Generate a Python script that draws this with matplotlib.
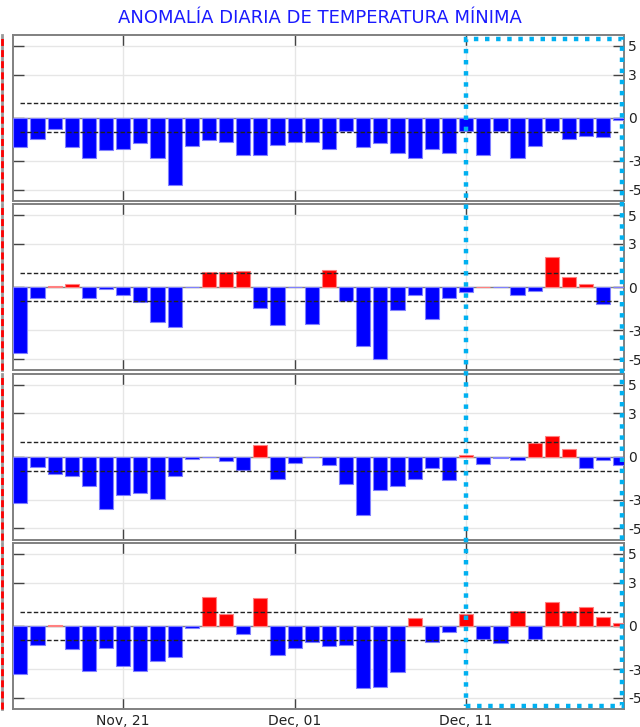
import numpy as np
import matplotlib
matplotlib.use("Agg")
import matplotlib.pyplot as plt
import matplotlib.dates as mdates
import matplotlib.transforms as mtransforms
from matplotlib.patches import Rectangle
import datetime as dt

title = "ANOMALÍA DIARIA DE TEMPERATURA MÍNIMA"
start = dt.date(2023, 11, 15)
dates = [start + dt.timedelta(days=i) for i in range(36)]

p1 = [-2.05, -1.45, -0.8, -2.05, -2.77, -2.26, -2.15, -1.75, -2.77, -4.66, -1.96, -1.57,
      -1.69, -2.56, -2.56, -1.87, -1.69, -1.69,
      -2.15, -0.95, -2.05, -1.75, -2.47, -2.77, -2.15, -2.47, -0.95, -2.56, -0.95, -2.77,
      -1.96, -0.95, -1.45, -1.25, -1.36, -0.16]
p2 = [-4.55, -0.76, 0.05, 0.23, -0.76, -0.14, -0.55, -1.04, -2.45, -2.75, 0.0, 1.04,
      1.04, 1.13, -1.45, -2.66, 0.0, -2.54,
      1.22, -0.97, -4.11, -5.03, -1.57, -0.55, -2.24, -0.76, -0.35, 0.03, 0.0, -0.55,
      -0.25, 2.1, 0.72, 0.23, -1.15, 0.0]
p3 = [-3.24, -0.76, -1.23, -1.34, -2.04, -3.63, -2.66, -2.52, -2.94, -1.34, -0.14, 0.0,
      -0.32, -0.93, 0.81, -1.55, -0.46, 0.0,
      -0.62, -1.92, -4.05, -2.36, -2.04, -1.55, -0.83, -1.62, 0.12, -0.53, -0.12, -0.25,
      0.95, 1.44, 0.53, -0.83, -0.25, -0.62]
p4 = [-3.33, -1.36, 0.04, -1.64, -3.14, -1.55, -2.82, -3.14, -2.45, -2.15, -0.14, 2.03,
      0.83, -0.53, 1.94, -2.03, -1.55, -1.13,
      -1.43, -1.34, -4.34, -4.23, -3.23, 0.53, -1.13, -0.44, 0.83, -0.92, -1.22, 1.02,
      -0.92, 1.64, 1.04, 1.34, 0.62, 0.23]
panels = [p1, p2, p3, p4]

yticks = [-5, -3, 0, 3, 5]
ytick_labels = ["-5", "-3", "0", "3", "5"]
xtick_dates = [dt.date(2023, 11, 21), dt.date(2023, 12, 1), dt.date(2023, 12, 11)]
threshold = 1.0
highlight_start = dt.date(2023, 12, 11)

W, H = 640, 727
fig = plt.figure(figsize=(W / 100, H / 100), dpi=100)

x = mdates.date2num(dates)
x0 = mdates.date2num(start)
xlim = (x0 - 0.41, x0 + 35.21)

left_px, right_px = 13.3, 624.0
top_px, ph, gap = 34.7, 166.0, 3.4

axes = []
for i, vals in enumerate(panels):
    top = top_px + i * (ph + gap)
    ax = fig.add_axes([left_px / W, 1 - (top + ph) / H, (right_px - left_px) / W, ph / H])
    axes.append(ax)
    vals = np.array(vals)
    colors = ["#ff0000" if v > 0 else "#0000ff" for v in vals]
    edges = ["#ff8080" if v > 0 else "#8080ff" for v in vals]
    ax.bar(x, vals, width=0.83, color=colors, edgecolor=edges, linewidth=0.8, zorder=3)
    ax.set_xlim(*xlim)
    ax.set_ylim(-5.77, 5.77)
    ax.axhline(0, color="#808080", lw=1.0, zorder=2)
    ax.hlines([threshold, -threshold], x[0], x[-1], colors="#222222",
              linestyles=(0, (3.2, 1.6)), lw=1.0, zorder=4)
    ax.set_yticks(yticks)
    ax.set_yticklabels(ytick_labels)
    ax.set_xticks(mdates.date2num(xtick_dates))
    ax.xaxis.set_major_formatter(mdates.DateFormatter("%b, %d"))
    ax.grid(True, color="#e6e6e6", lw=1.0, zorder=0)
    ax.set_axisbelow(True)
    ax.tick_params(axis="y", direction="in", left=True, right=True, labelleft=False,
                   labelright=True, length=8, width=1.0, color="#444444",
                   labelsize=10, labelcolor="#222222", pad=3)
    ax.tick_params(axis="x", direction="in", top=True, bottom=True, length=8, width=1.0,
                   color="#444444", labelsize=10, labelcolor="#222222", pad=4,
                   labelbottom=(i == 3))
    for s in ax.spines.values():
        s.set_color("#808080")
        s.set_linewidth(1.4)
    # left red dashed marker
    xl = (1.5 - left_px) / (right_px - left_px)
    ax.plot([xl, xl], [0, 1], transform=ax.transAxes, color="#999999", lw=2.0,
            clip_on=False, zorder=5)
    ax.plot([xl, xl], [0, 1], transform=ax.transAxes, color="#ff0000", lw=2.0,
            linestyle=(0, (2.5, 1.5)), clip_on=False, zorder=6)

fig.text(0.5, 1 - 18 / H, title, color="#1a1aff", fontsize=13,
         ha="center", va="center")

# cyan dotted highlight box spanning all panels
trans = mtransforms.blended_transform_factory(axes[0].transData, fig.transFigure)
hx0 = mdates.date2num(highlight_start)
hx1 = x0 + 35.12
rect = Rectangle((hx0, 1 - 705.7 / H), hx1 - hx0, (705.7 - 39) / H, transform=trans,
                 fill=False, edgecolor="#00b0f0", lw=3.2, linestyle=(0, (1, 1.5)),
                 capstyle="butt", zorder=10)
fig.patches.append(rect)
rect.set_figure(fig)

fig.savefig("out.png", dpi=100)
